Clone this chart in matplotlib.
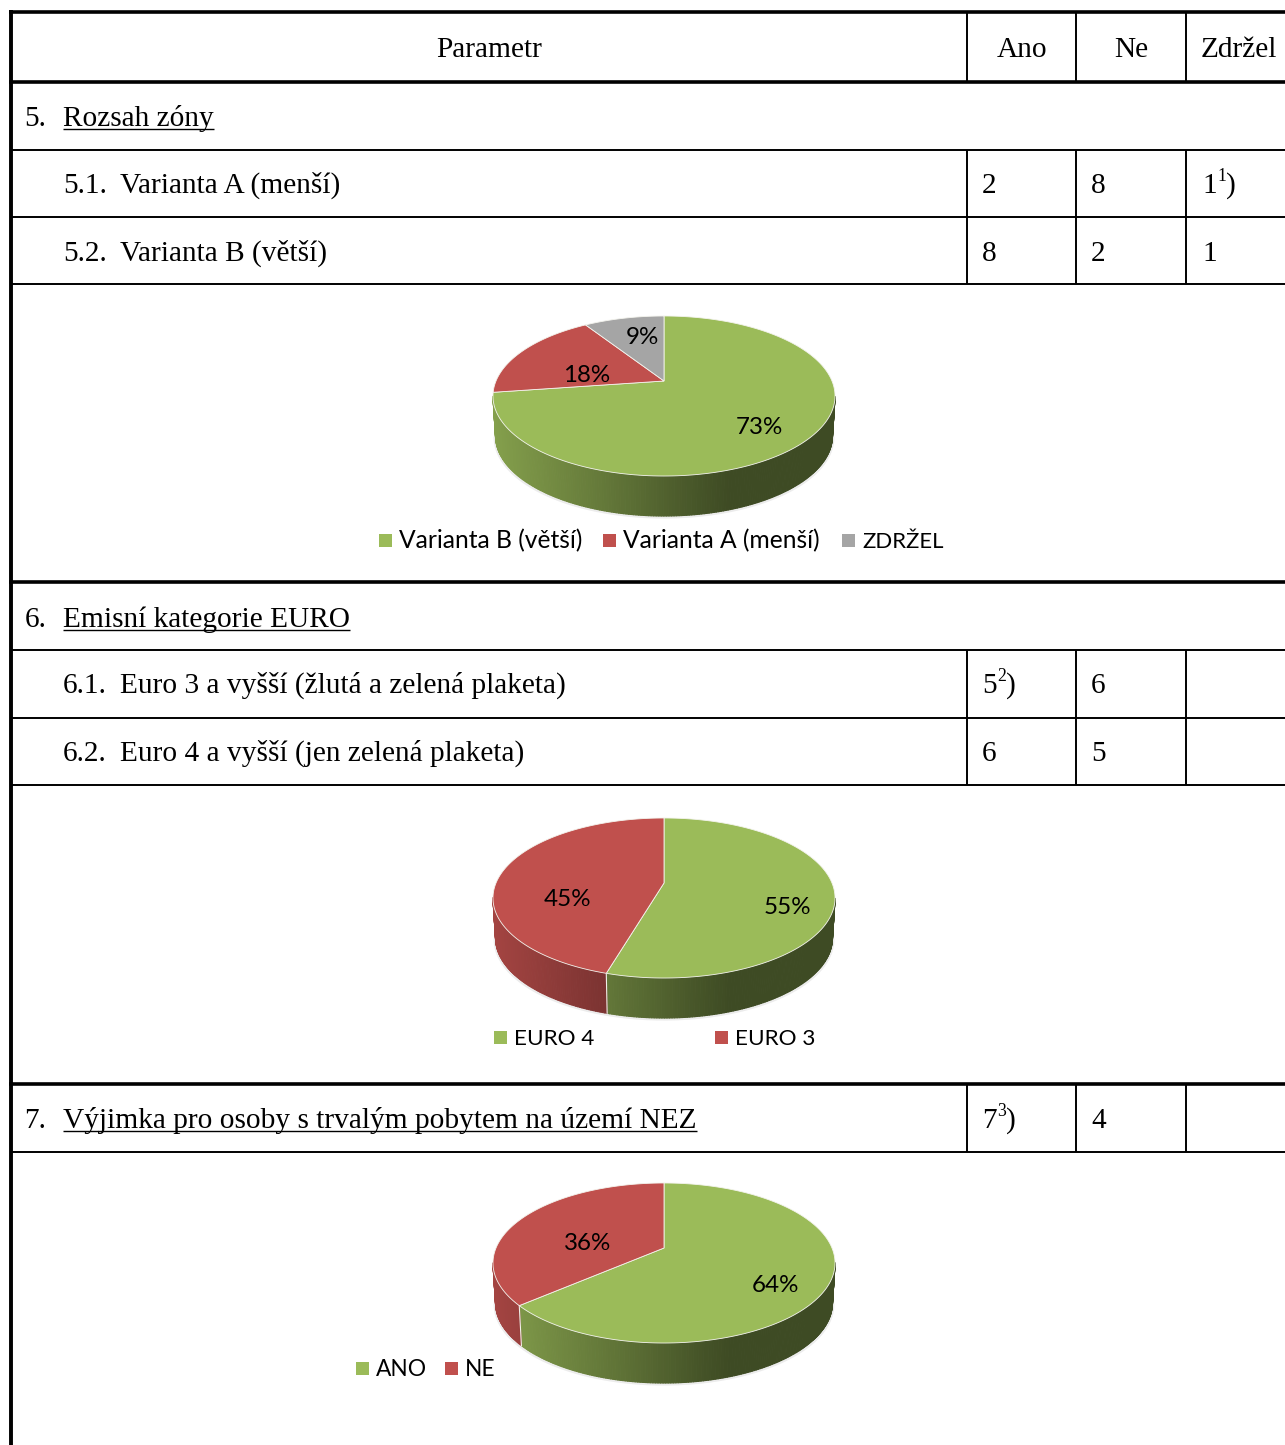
import numpy as np
import matplotlib
matplotlib.use("Agg")
import matplotlib.pyplot as plt
from matplotlib.collections import PolyCollection
from matplotlib.patches import Rectangle

# hodnoty z tabulky
header = ["Parametr", "Ano", "Ne", "Zdržel"]
sections = ["5.", "6.", "7."]
section_names = ["Rozsah zóny", "Emisní kategorie EURO", "Výjimka pro osoby s trvalým pobytem na území NEZ"]
row_numbers = ["5.1.", "5.2.", "6.1.", "6.2."]
row_names = ["Varianta A (menší)", "Varianta B (větší)",
             "Euro 3 a vyšší (žlutá a zelená plaketa)", "Euro 4 a vyšší (jen zelená plaketa)"]
ano_col = [("2", ""), ("8", ""), ("5", "2"), ("6", ""), ("7", "3")]
ne_col = ["8", "2", "6", "5", "4"]
zdrzel_col = [("1", "1"), ("1", "")]

pie1_values = [8, 2, 1]
pie1_labels = ["Varianta B (větší)", "Varianta A (menší)", "ZDRŽEL"]
pie2_values = [6, 5]
pie2_labels = ["EURO 4", "EURO 3"]
pie3_values = [7, 4]
pie3_labels = ["ANO", "NE"]

GREEN = "#9BBB59"
RED = "#C0504D"
GREY = "#A5A5A5"
SLICE_COLORS = [GREEN, RED, GREY]

SERIF = "Liberation Serif"
SANS = "Lato"
TABLE_SIZE = 21.2
PERCENT_SIZE = 17.4

# perspektiva kolacu
RX = 168.0
RY = 77.2
K = 0.1875
DEPTH = 40
CX = 664


def rim(t, apex_y, shift=0.0, scale=1.0):
    # t je uhel po smeru hodin od vrcholu
    u, v = np.sin(t), np.cos(t)
    x = CX + scale * RX * u / (1 + K * v)
    y = apex_y - RY * v / (1 + K * v) + shift
    return x, y


def wall_color(color, x):
    # stin boku zleva doprava
    f = np.interp(x, [CX - 171, CX - 64, CX + 36, CX + 66, CX + 171], [0.85, 0.65, 0.45, 0.40, 0.40])
    return tuple(np.array(matplotlib.colors.to_rgb(color)) * f)


def draw_pie(ax, values, apex_y):
    fractions = np.array(values) / np.sum(values)
    edges = np.concatenate([[0], np.cumsum(fractions)]) * 2 * np.pi

    # jemny stin pod kolacem, jen vpredu
    tt = np.linspace(0, 2 * np.pi, 361)
    tt = tt[np.cos(tt) < -K]
    sx, sy = rim(tt, apex_y, DEPTH + 1.5, 0.99)
    ax.plot(sx, sy, color="#808080", lw=1.6, alpha=0.15, zorder=2)

    # bok, kreslime jen viditelnou cast
    polys, cols = [], []
    for i, color in enumerate(SLICE_COLORS[:len(values)]):
        n = max(int((edges[i + 1] - edges[i]) * 80), 2)
        t = np.linspace(edges[i], edges[i + 1], n + 1)
        x1, y1 = rim(t, apex_y)
        x2, y2 = rim(t, apex_y, DEPTH, 0.985)
        for j in range(n):
            if np.cos((t[j] + t[j + 1]) / 2) >= -K:
                continue
            polys.append([(x1[j], y1[j]), (x1[j + 1], y1[j + 1]), (x2[j + 1], y2[j + 1]), (x2[j], y2[j])])
            cols.append(wall_color(color, (x1[j] + x1[j + 1]) / 2))
    ax.add_collection(PolyCollection(polys, facecolors=cols, edgecolors=cols, linewidths=0.8, zorder=3))

    # delici cary na boku
    for e in edges[1:-1]:
        if np.cos(e) < -K:
            x1, y1 = rim(e, apex_y)
            x2, y2 = rim(e, apex_y, DEPTH, 0.985)
            ax.plot([x1, x2], [y1, y2], color="#f0f0e8", lw=0.8, zorder=4)

    # horni plocha
    for i, color in enumerate(SLICE_COLORS[:len(values)]):
        t = np.linspace(edges[i], edges[i + 1], 200)
        x, y = rim(t, apex_y)
        ax.fill(np.r_[CX, x], np.r_[apex_y, y], facecolor=color, edgecolor="#f4f4ee", lw=0.6, zorder=5)

    return fractions


def draw_percent(ax, fractions, positions):
    for frac, (x, y) in zip(fractions, positions):
        ax.text(x, y, f"{round(frac * 100)}%", family=SANS, fontsize=PERCENT_SIZE, color="black",
                ha="center", va="center", zorder=6)


def draw_legend(ax, labels, colors, xs, y, sizes):
    for lab, col, x, size in zip(labels, colors, xs, sizes):
        ax.add_patch(Rectangle((x - 6.5, y - 6.5), 13, 13, facecolor=col, edgecolor="none", zorder=6))
        ax.text(x + 14, y + 8, lab, family=SANS, fontsize=size, color="black", ha="left", va="baseline", zorder=6)


def serif_text(ax, x, y, s, ha="left", size=TABLE_SIZE):
    return ax.text(x, y, s, family=SERIF, fontsize=size, color="black", ha=ha, va="baseline", zorder=6)


def value_text(ax, x, y, item):
    # hodnota s hornim indexem a zavorkou
    val, sup = item
    t = serif_text(ax, x, y, val)
    if sup:
        ext = t.get_window_extent(ax.figure.canvas.get_renderer())
        s = serif_text(ax, ext.x1 + 0.5, y - 12, sup, size=TABLE_SIZE * 0.6)
        ext2 = s.get_window_extent(ax.figure.canvas.get_renderer())
        serif_text(ax, ext2.x1, y, ")")


fig = plt.figure(figsize=(12.85, 14.45), dpi=100)
ax = fig.add_axes([0, 0, 1, 1])
ax.set_xlim(0, 1285)
ax.set_ylim(1445, 0)
ax.axis("off")

# mrizka tabulky
thick_y = [12, 81.5, 582, 1084]
thin_y = [150, 217, 284, 650, 718, 785, 1152]
col_x = [967, 1076, 1186]
col_spans = [(12, 81.5), (150, 284), (650, 785), (1084, 1152)]
ax.hlines(thick_y, 8.5, 1285, color="black", lw=2.6, zorder=7)
ax.hlines(thin_y, 10, 1285, color="black", lw=1.4, zorder=7)
ax.vlines(10.5, 10, 1445, color="black", lw=2.8, zorder=7)
for y0, y1 in col_spans:
    ax.vlines(col_x, y0, y1, color="black", lw=1.4, zorder=7)

# zahlavi
for s, x in zip(header, [489, 1022, 1131, 1239]):
    serif_text(ax, x, 57, s, ha="center")

# nadpisy sekci s podtrzenim
renderer = fig.canvas.get_renderer()
for num, name, y in zip(sections, section_names, [126, 627, 1128]):
    serif_text(ax, 24.5, y, num)
    t = serif_text(ax, 63, y, name)
    ext = t.get_window_extent(renderer)
    ax.hlines(y + 2.5, 63, ext.x1, color="black", lw=1.0, zorder=7)

# radky
row_y = [193, 261, 693, 761]
for num, name, y in zip(row_numbers, row_names, row_y):
    serif_text(ax, 63, y, num)
    serif_text(ax, 120, y, name)

ano_y = row_y + [1128]
for item, n, y in zip(ano_col, ne_col, ano_y):
    value_text(ax, 982, y, item)
    serif_text(ax, 1091, y, n)
for item, y in zip(zdrzel_col, row_y[:2]):
    value_text(ax, 1202, y, item)

# kolace
f1 = draw_pie(ax, pie1_values, 381)
draw_percent(ax, f1, [(759, 427), (587, 376), (642, 338)])
draw_legend(ax, pie1_labels, [GREEN, RED, GREY], [385, 609, 848], 540, [17.7, 17.7, 15.9])

f2 = draw_pie(ax, pie2_values, 883)
draw_percent(ax, f2, [(787, 908), (567, 900)])
draw_legend(ax, pie2_labels, [GREEN, RED], [500, 721], 1037, [16.2, 16.2])

f3 = draw_pie(ax, pie3_values, 1248)
draw_percent(ax, f3, [(775, 1286), (588, 1244)])
draw_legend(ax, pie3_labels, [GREEN, RED], [362, 451], 1368, [16.4, 16.4])

fig.savefig("out.png", dpi=100, facecolor="white")
